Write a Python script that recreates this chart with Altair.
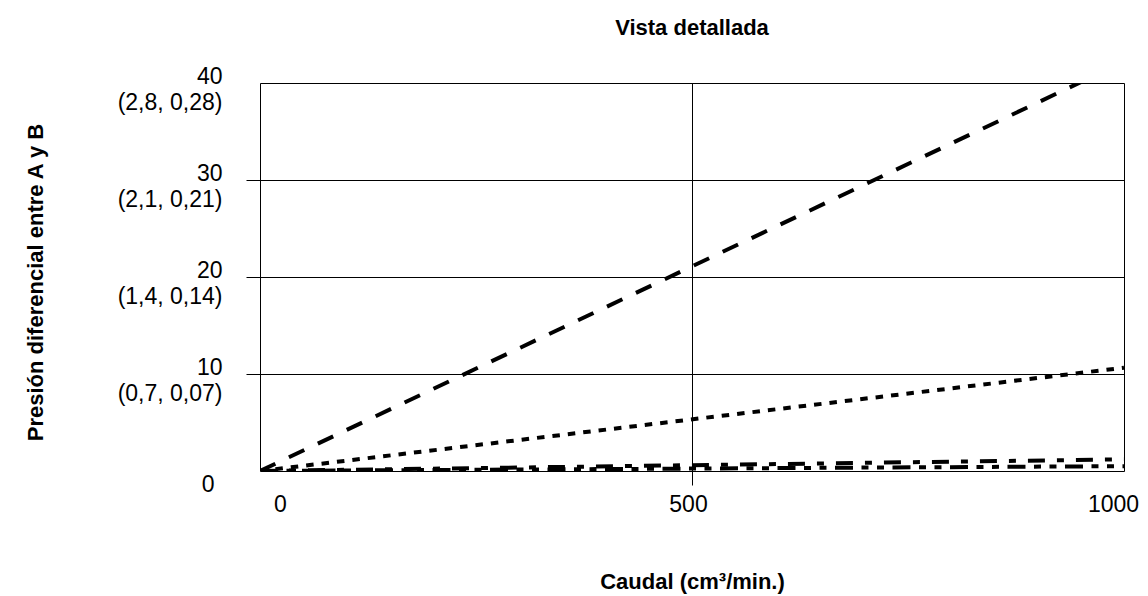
import altair as alt
import pandas as pd

# ---- data ----
caudal = [0, 1000]
serie_raya_larga = [0, 42.2]
serie_puntos = [0, 10.65]
serie_raya_punto = [0, 1.2]
serie_raya_dos_puntos = [0, 0.5]

series_names = ["Raya larga", "Puntos", "Raya-punto", "Raya-dos puntos"]
series_values = [serie_raya_larga, serie_puntos, serie_raya_punto, serie_raya_dos_puntos]
series_dash = [[17, 15], [7.5, 8], [17, 12, 7, 12], [18, 8.5, 7, 8.5, 7, 8.5]]

x_ticks = [0, 500, 1000]
y_ticks = [0, 10, 20, 30, 40]
y_main = ["0", "10", "20", "30", "40"]
y_sub = ["", "(0,7, 0,07)", "(1,4, 0,14)", "(2,1, 0,21)", "(2,8, 0,28)"]

rows = []
for name, vals in zip(series_names, series_values):
    for xv, yv in zip(caudal, vals):
        rows.append({"serie": name, "caudal": xv, "presion": yv})
df = pd.DataFrame(rows)

# multi-line y labels
expr = "''"
for v, m, s in zip(y_ticks, y_main, y_sub):
    if s:
        lab = "['%s', '%s']" % (m, s)
    else:
        lab = "'%s'" % m
    expr = "datum.value == %s ? %s : (%s)" % (v, lab, expr)

FONT = "Liberation Sans"
LBL = 23
TTL = 22

x_axis = alt.Axis(
    values=x_ticks, format="d",
    labelFont=FONT, labelFontSize=LBL, labelColor="black",
    labelPadding=8, labelFlush=False,
    labelOffset={"condition": [{"test": "datum.value == 0", "value": 20},
                               {"test": "datum.value == 1000", "value": -11}],
                 "value": -4},
    tickSize=14, tickWidth=1,
    tickColor={"condition": {"test": "datum.value == 0 || datum.value == 1000", "value": "transparent"},
               "value": "black"},
    grid=True, gridColor="black", gridOpacity=1, gridWidth=1,
    domain=False,
    title="Caudal (cm³/min.)",
    titleFont=FONT, titleFontSize=TTL, titleFontWeight="bold", titleColor="black",
    titleX=432, titleY=117, titleAlign="center", titleBaseline="alphabetic",
)

y_axis = alt.Axis(
    values=y_ticks,
    labelExpr=expr,
    labelFont=FONT, labelFontSize=LBL, labelColor="black",
    labelBaseline="alphabetic", labelLineHeight=26, labelAlign="right",
    labelPadding={"condition": {"test": "datum.value == 0", "value": 32}, "value": 24},
    labelOffset={"condition": {"test": "datum.value == 0", "value": 20}, "value": 0},
    labelOverlap=False, labelFlush=False,
    tickSize=14, tickWidth=1,
    tickColor={"condition": {"test": "datum.value == 0 || datum.value == 40", "value": "transparent"},
               "value": "black"},
    grid=True, gridColor="black", gridOpacity=1, gridWidth=1,
    domain=False,
    title="Presión diferencial entre A y B",
    titleFont=FONT, titleFontSize=TTL, titleFontWeight="bold", titleColor="black",
    titleAngle=-90, titleX=-225, titleY=199, titleAlign="center", titleBaseline="middle",
)

chart = alt.Chart(df).mark_line(color="black", strokeWidth=4, clip=True, strokeCap="butt").encode(
    x=alt.X("caudal:Q", scale=alt.Scale(domain=[0, 1000], nice=False, zero=False), axis=x_axis),
    y=alt.Y("presion:Q", scale=alt.Scale(domain=[0, 40], nice=False), axis=y_axis),
    strokeDash=alt.StrokeDash("serie:N", scale=alt.Scale(domain=series_names, range=series_dash), legend=None),
    detail="serie:N",
).properties(
    width=864,
    height=388,
    autosize=alt.AutoSizeParams(type="none"),
    padding={"left": 252, "top": 75, "right": 16, "bottom": 125},
    title=alt.TitleParams(
        text="Vista detallada", font=FONT, fontSize=TTL, fontWeight="bold", color="black",
        anchor="middle", frame="group", offset=8, baseline="alphabetic",
    ),
).configure_view(
    stroke="black", strokeWidth=2
).configure(background="white")

chart.save("out.html", embed_options={"renderer": "svg", "actions": False})
